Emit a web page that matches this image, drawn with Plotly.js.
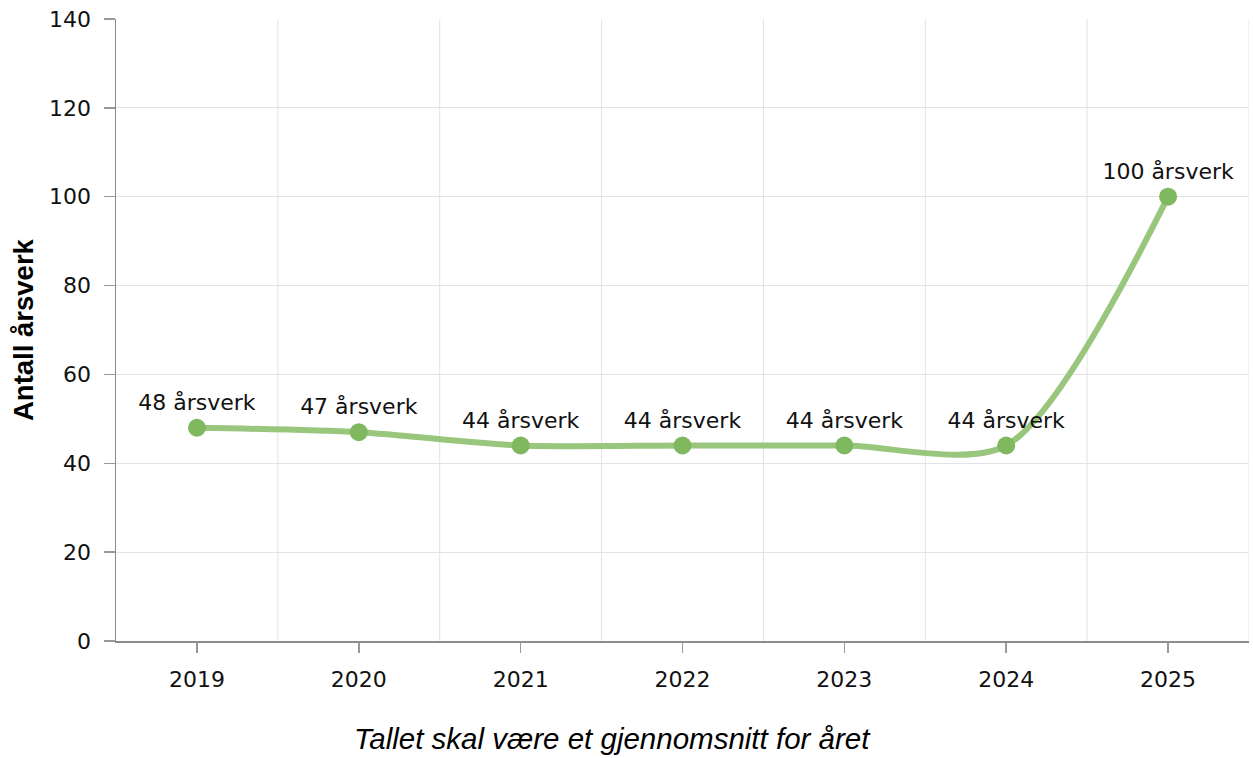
<!DOCTYPE html>
<html>
<head>
<meta charset="utf-8">
<script src="https://cdn.plot.ly/plotly-3.0.1.min.js"></script>
<style>html,body{margin:0;padding:0;background:#fff;}#chart{width:1253px;height:758px;}</style>
</head>
<body>
<div id="chart"></div>
<script>
const years = ["2019", "2020", "2021", "2022", "2023", "2024", "2025"];
const aarsverk = [48, 47, 44, 44, 44, 44, 100];
const labelSuffix = " årsverk";
const yTitle = "Antall årsverk";
const xTitle = "Tallet skal være et gjennomsnitt for året";

const labels = aarsverk.map(v => v + labelSuffix);

const boundaryShapes = [];
for (let i = 0; i < years.length; i++) {
  boundaryShapes.push({
    type: "line", xref: "x", yref: "paper",
    x0: i + 0.5, x1: i + 0.5, y0: 0, y1: 1,
    line: {color: "#e3e3e3", width: 1}, layer: "below"
  });
}

const trace = {
  x: years, y: aarsverk, text: labels,
  type: "scatter", mode: "lines+markers+text",
  line: {shape: "spline", smoothing: 0.8, color: "#98c67c", width: 6},
  marker: {size: 18, color: "#7fb85f"},
  textposition: "top center",
  textfont: {family: "DejaVu Sans", size: 22, color: "#111"},
  cliponaxis: false,
  hoverinfo: "none"
};

const layout = {
  width: 1253, height: 758,
  margin: {l: 116, r: 4, t: 19, b: 117},
  paper_bgcolor: "#fff", plot_bgcolor: "#fff",
  font: {family: "DejaVu Sans", size: 22, color: "#111"},
  showlegend: false,
  xaxis: {
    type: "category", range: [-0.5, 6.5],
    showgrid: false, zeroline: false,
    showline: true, linecolor: "#8c8c8c", linewidth: 1.5,
    ticks: "outside", ticklen: 10, tickcolor: "#999", tickwidth: 1.5,
    ticklabelstandoff: 8,
    tickfont: {family: "DejaVu Sans", size: 22, color: "#111"}
  },
  yaxis: {
    range: [0, 140], dtick: 20, tick0: 0,
    showgrid: true, gridcolor: "#e3e3e3", gridwidth: 1,
    zeroline: false,
    showline: true, linecolor: "#8c8c8c", linewidth: 1.5,
    ticks: "outside", ticklen: 11, tickcolor: "#999", tickwidth: 1.5,
    ticklabelstandoff: 8,
    tickfont: {family: "DejaVu Sans", size: 22, color: "#111"}
  },
  shapes: boundaryShapes,
  annotations: [
    {text: yTitle, xref: "paper", yref: "paper", x: 0, y: 0.5,
     xanchor: "center", yanchor: "middle", xshift: -93, textangle: -90,
     showarrow: false,
     font: {family: "Liberation Sans", size: 27.5, color: "#000", weight: "bold"}},
    {text: "<i>" + xTitle + "</i>", xref: "paper", yref: "paper", x: 0.4378, y: 0,
     xanchor: "center", yanchor: "middle", yshift: -97,
     showarrow: false,
     font: {family: "Liberation Sans", size: 29.5, color: "#000"}}
  ]
};

Plotly.newPlot("chart", [trace], layout, {displayModeBar: false, staticPlot: true});
</script>
</body>
</html>
